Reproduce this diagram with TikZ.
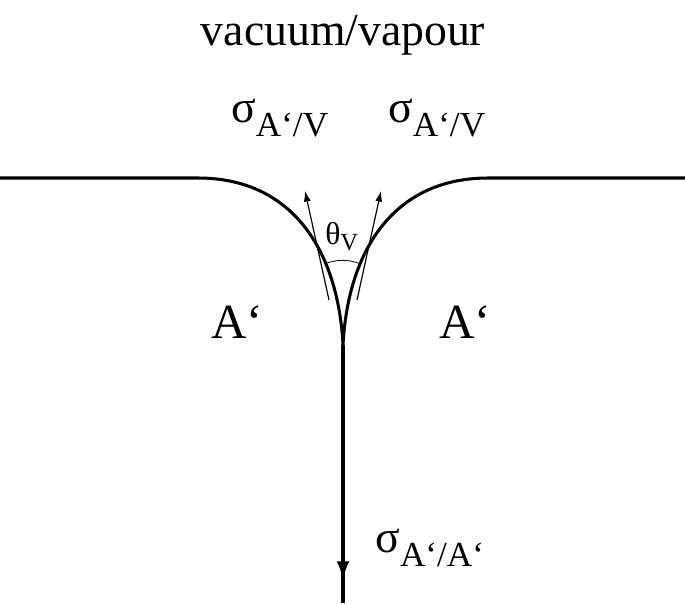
\documentclass[tikz,border=0pt]{standalone}
\usepackage{fontspec}
\setmainfont{Liberation Serif}
\usetikzlibrary{arrows.meta}
\tikzset{>={Latex[length=9pt,width=6pt]}, x=0.03cm, y=-0.03cm,
  interface/.style={line width=2.6pt},
  vector/.style={->, line width=1pt},
  label/.style={inner sep=0pt, font=\fontsize{39}{39}\selectfont}}
\newcommand{\sig}[1]{σ\textsubscript{\fontsize{30}{30}\selectfont #1}}
\begin{document}
\begin{tikzpicture}
	\useasboundingbox (0,0) rectangle (685,603);
	\coordinate (west) at (0,178);
	\coordinate (east) at (685,178);
	\coordinate (cusp) at (343,345);
	\coordinate (bottom) at (343,603);
	\node [label] (title) at (343,35) {vacuum/vapour};
	\node [label] (sig-left) at (280,118) {\sig{A‘/V}};
	\node [label] (sig-right) at (437,118) {\sig{A‘/V}};
	\node [label, font=\fontsize{42}{42}\selectfont] (phase-left) at (237,322) {A‘};
	\node [label, font=\fontsize{42}{42}\selectfont] (phase-right) at (465,322) {A‘};
	\node [label, font=\fontsize{27}{27}\selectfont] (theta) at (342,237) {θ\textsubscript{\fontsize{21}{21}\selectfont V}};
	\node [label] (sig-bottom) at (430,548) {\sig{A‘/A‘}};
	\coordinate (tip-left) at (305,191);
	\coordinate (tip-right) at (381,191);

	\draw [interface] (west) -- (198,178) .. controls (292,178) and (338,250) .. (cusp)
		.. controls (348,250) and (394,178) .. (488,178) -- (east);
	\draw [interface, -{Latex[length=16pt,width=11pt]}] (cusp) -- (343,580);
	\draw [interface] (343,570) -- (bottom);
	\draw [vector] (329,300) -- (tip-left);
	\draw [vector] (357,300) -- (tip-right);
	\draw [line width=0.7pt] (324,264) to[bend left=20] (361,264);
\end{tikzpicture}
\end{document}
